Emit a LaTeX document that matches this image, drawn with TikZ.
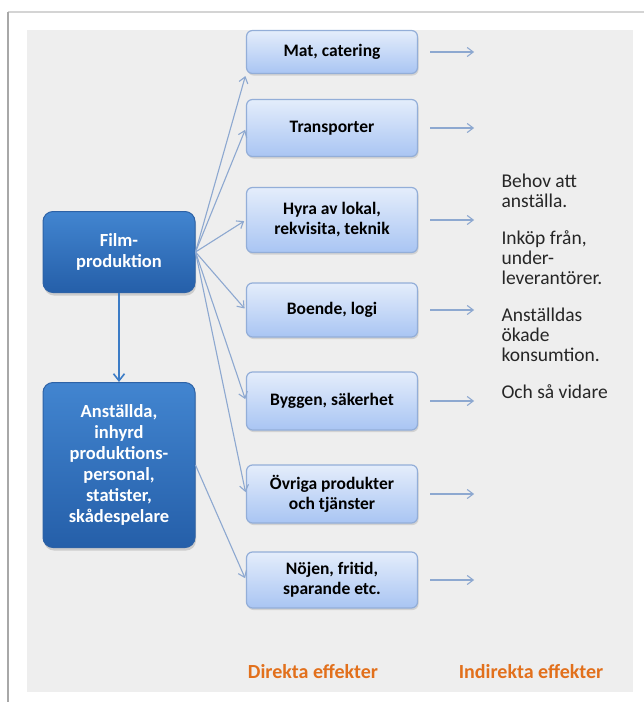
\documentclass[tikz,border=0pt]{standalone}
\usepackage{fontspec}
\setmainfont{Carlito}
\usetikzlibrary{arrows.meta, positioning, shadows}

\definecolor{bgGrey}{HTML}{EEEEEE}
\definecolor{frameGrey}{HTML}{A8A8A8}
\definecolor{frameLight}{HTML}{D4D4D4}
\definecolor{boxTop}{HTML}{E4EDFB}
\definecolor{boxBottom}{HTML}{A9C5F3}
\definecolor{boxEdge}{HTML}{93AED8}
\definecolor{filmTop}{HTML}{4285D0}
\definecolor{filmBottom}{HTML}{255FA9}
\definecolor{filmEdge}{HTML}{2D62A6}
\definecolor{arrowBlue}{HTML}{8DA8D0}
\definecolor{downBlue}{HTML}{3C7CC6}
\definecolor{effectOrange}{HTML}{E2701C}

\begin{document}
\begin{tikzpicture}[
    x=1pt, y=-1pt,
    effect box/.style={
        rectangle,
        rounded corners=6pt,
        draw=boxEdge,
        line width=1.2pt,
        top color=boxTop,
        bottom color=boxBottom,
        minimum width=171pt,
        align=center,
        font=\bfseries\fontsize{17.5}{20}\selectfont,
        drop shadow={opacity=0.25, shadow xshift=1pt, shadow yshift=-2pt}
    },
    film box/.style={
        rectangle,
        rounded corners=10pt,
        draw=filmEdge,
        line width=1pt,
        top color=filmTop,
        bottom color=filmBottom,
        minimum width=152pt,
        align=center,
        text=white,
        font=\bfseries\fontsize{18.5}{21}\selectfont,
        drop shadow={opacity=0.3, shadow xshift=1pt, shadow yshift=-3pt}
    },
    side note/.style={
        align=left,
        text=black!85,
        font=\fontsize{19.5}{20}\selectfont
    },
    effect label/.style={
        text=effectOrange,
        font=\bfseries\fontsize{20}{22}\selectfont
    },
    spread arrow/.style={
        draw=arrowBlue,
        line width=1.1pt,
        -{Straight Barb[length=6pt,width=9pt]},
        shorten >=2pt
    },
    down arrow/.style={
        draw=downBlue,
        line width=1.6pt,
        -{Straight Barb[length=7pt,width=11pt]}
    }
]
\useasboundingbox (0,0) rectangle (644,702);

% frame and background
\fill[bgGrey] (27,30) rectangle (633,692);
\draw[frameLight, line width=1.2pt] (8,12) -- (644,12);
\draw[frameGrey, line width=2pt] (8,12) -- (8,702);

% left column
\node[film box, minimum height=81pt] (film) at (119,252) {Film-\\produktion};
\node[film box, minimum height=165pt] (anst) at (119,465) {Anställda,\\inhyrd\\produktions-\\personal,\\statister,\\skådespelare};

% direct effects
\node[effect box, minimum height=43pt] (mat) at (332,52) {Mat, catering};
\node[effect box, minimum height=57pt] (transp) at (332,128) {Transporter};
\node[effect box, minimum height=65pt] (hyra) at (332,220) {Hyra av lokal,\\rekvisita, teknik};
\node[effect box, minimum height=54pt] (boende) at (332,310) {Boende, logi};
\node[effect box, minimum height=58pt] (bygg) at (332,401) {Byggen, säkerhet};
\node[effect box, minimum height=58pt] (ovriga) at (332,494) {Övriga produkter\\och tjänster};
\node[effect box, minimum height=56pt] (nojen) at (332,580) {Nöjen, fritid,\\sparande etc.};

% indirect effects
\node[side note, anchor=north west] (notes) at (498,170) {Behov att\\anställa.\\[17pt]Inköp från,\\under-\\leverantörer.\\[17pt]Anställdas\\ökade\\konsumtion.\\[17pt]Och så vidare};

\node[effect label] (direkta) at (313,672) {Direkta effekter};
\node[effect label] (indirekta) at (531,672) {Indirekta effekter};

% connectors
\draw[down arrow] (film) -- (anst);
\draw[spread arrow] (film.east) -- (mat.south west);
\foreach \b in {transp,hyra,boende,bygg,ovriga}
    \draw[spread arrow] (film.east) -- (\b.west);
\draw[spread arrow] (anst.east) -- (nojen.west);

\foreach \b in {mat,transp,hyra,boende,bygg,ovriga,nojen} {
    \coordinate[xshift=12pt] (\b-from) at (\b.east);
    \coordinate[xshift=56pt] (\b-to) at (\b.east);
    \draw[spread arrow, shorten >=0pt] (\b-from) -- (\b-to);
}
\end{tikzpicture}
\end{document}
